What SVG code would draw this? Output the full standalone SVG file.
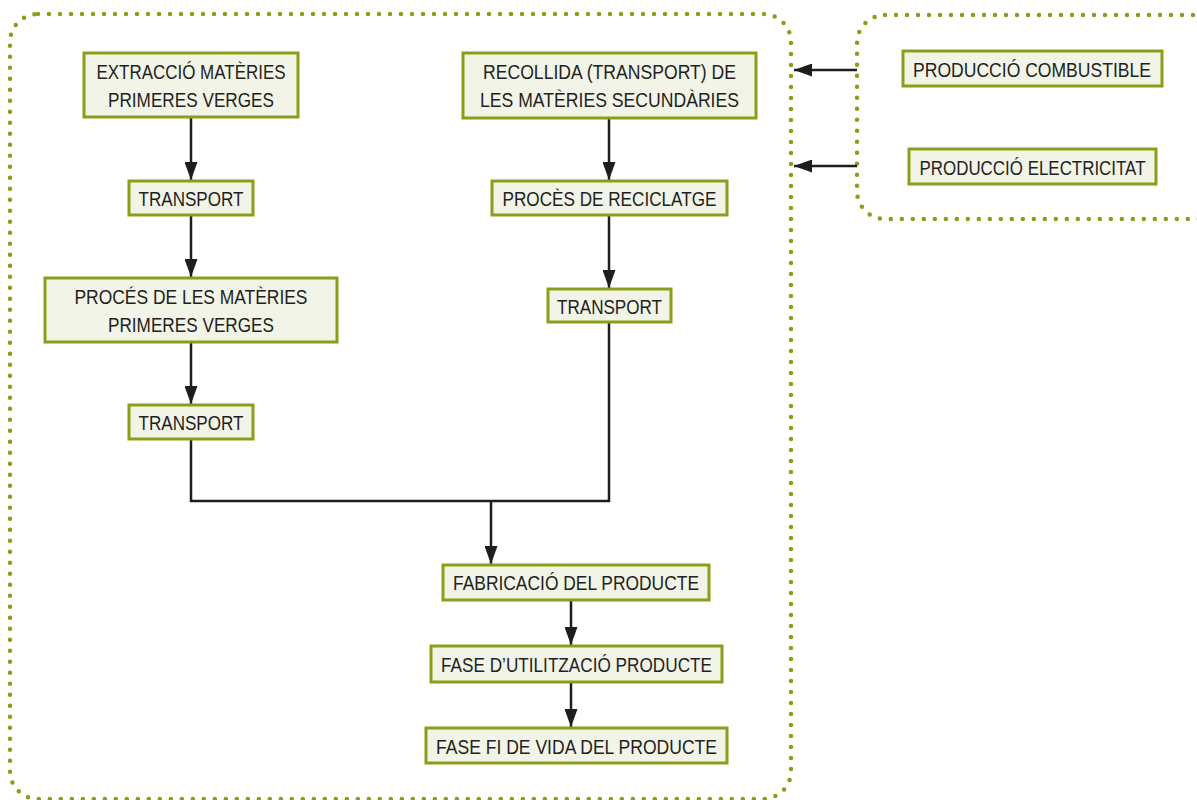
<svg xmlns="http://www.w3.org/2000/svg" width="1197" height="800" viewBox="0 0 1197 800">
<defs>
<style>
.frame{fill:none;stroke:#8b9d19;stroke-width:4.5;stroke-dasharray:0 11;stroke-linecap:round}
.box{fill:#f2f4e8;stroke:#8b9d19;stroke-width:3}
.t{font-family:"Liberation Sans Narrow","Liberation Sans",Arial,sans-serif;font-size:21px;fill:#231f20;text-anchor:middle}
.s{font-size:20.5px}
.c{fill:none;stroke:#1f1d1e;stroke-width:2.5}
.a{marker-end:url(#arr)}
</style>
<marker id="arr" viewBox="0 0 18 13" refX="18" refY="6.5" markerWidth="18" markerHeight="13" markerUnits="userSpaceOnUse" orient="auto">
<path d="M0,0 L18,6.5 L0,13 z" fill="#1f1d1e"/>
</marker>
</defs>
<rect width="1197" height="800" fill="#ffffff"/>
<g id="frames">
<rect class="frame" x="10" y="14" width="781" height="785" rx="28"/>
<rect class="frame" x="857" y="15" width="370" height="204" rx="28"/>
</g>
<g id="connectors">
<line class="c a" x1="191" y1="117" x2="191" y2="180"/>
<line class="c a" x1="191" y1="215" x2="191" y2="277"/>
<line class="c a" x1="191" y1="342" x2="191" y2="404"/>
<line class="c a" x1="609" y1="118" x2="609" y2="180"/>
<line class="c a" x1="609" y1="215" x2="609" y2="288"/>
<polyline class="c" points="191,439 191,501 609,501 609,322"/>
<line class="c a" x1="491" y1="501" x2="491" y2="564"/>
<line class="c a" x1="571" y1="600" x2="571" y2="645"/>
<line class="c a" x1="571" y1="682" x2="571" y2="727"/>
<line class="c a" x1="857" y1="70" x2="794" y2="70"/>
<line class="c a" x1="857" y1="166" x2="794" y2="166"/>
</g>
<g id="n1"><rect class="box" x="84" y="53" width="214" height="64"/>
<text class="t" x="191" y="79" textLength="189" lengthAdjust="spacingAndGlyphs">EXTRACCIÓ MATÈRIES</text>
<text class="t" x="191" y="107" textLength="166" lengthAdjust="spacingAndGlyphs">PRIMERES VERGES</text></g>
<g id="n2"><rect class="box" x="129" y="181" width="124" height="34"/>
<text class="t" x="191" y="206" textLength="105" lengthAdjust="spacingAndGlyphs">TRANSPORT</text></g>
<g id="n3"><rect class="box" x="45" y="278" width="292" height="64"/>
<text class="t" x="191" y="304" textLength="233" lengthAdjust="spacingAndGlyphs">PROCÉS DE LES MATÈRIES</text>
<text class="t" x="191" y="332" textLength="166" lengthAdjust="spacingAndGlyphs">PRIMERES VERGES</text></g>
<g id="n4"><rect class="box" x="129" y="405" width="124" height="34"/>
<text class="t" x="191" y="430" textLength="105" lengthAdjust="spacingAndGlyphs">TRANSPORT</text></g>
<g id="n5"><rect class="box" x="463" y="53" width="293" height="65"/>
<text class="t" x="609.5" y="79" textLength="253" lengthAdjust="spacingAndGlyphs">RECOLLIDA (TRANSPORT) DE</text>
<text class="t" x="609.5" y="107" textLength="259" lengthAdjust="spacingAndGlyphs">LES MATÈRIES SECUNDÀRIES</text></g>
<g id="n6"><rect class="box" x="492" y="181" width="235" height="34"/>
<text class="t" x="609.5" y="206" textLength="214" lengthAdjust="spacingAndGlyphs">PROCÈS DE RECICLATGE</text></g>
<g id="n7"><rect class="box" x="548" y="289" width="123" height="33"/>
<text class="t" x="609.5" y="314" textLength="105" lengthAdjust="spacingAndGlyphs">TRANSPORT</text></g>
<g id="n8"><rect class="box" x="443" y="565" width="266" height="35"/>
<text class="t" x="576" y="590" textLength="246" lengthAdjust="spacingAndGlyphs">FABRICACIÓ DEL PRODUCTE</text></g>
<g id="n9"><rect class="box" x="431" y="646" width="291" height="36"/>
<text class="t" x="576.5" y="672" textLength="271" lengthAdjust="spacingAndGlyphs">FASE D’UTILITZACIÓ PRODUCTE</text></g>
<g id="n10"><rect class="box" x="426" y="728" width="301" height="35"/>
<text class="t" x="576.5" y="754" textLength="281" lengthAdjust="spacingAndGlyphs">FASE FI DE VIDA DEL PRODUCTE</text></g>
<g id="n11"><rect class="box" x="903" y="51" width="259" height="35"/>
<text class="t" x="1032" y="77" textLength="238" lengthAdjust="spacingAndGlyphs">PRODUCCIÓ COMBUSTIBLE</text></g>
<g id="n12"><rect class="box" x="909" y="149" width="247" height="35"/>
<text class="t s" x="1032.5" y="175" textLength="226" lengthAdjust="spacingAndGlyphs">PRODUCCIÓ ELECTRICITAT</text></g>
</svg>
